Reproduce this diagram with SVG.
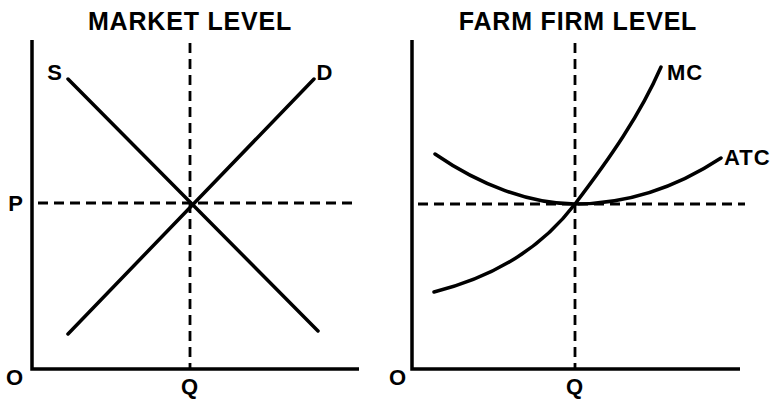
<svg xmlns="http://www.w3.org/2000/svg" width="778" height="400" viewBox="0 0 778 400">
<style>
.t{font-family:"Liberation Sans",Arial,sans-serif;font-weight:bold;fill:#000}
.title{font-size:25px;letter-spacing:0.8px}
.lbl{font-size:22px;letter-spacing:1px}
.axis{stroke:#000;stroke-width:3.5;fill:none}
.curve{stroke:#000;stroke-width:3.5;fill:none;stroke-linecap:round}
.dash{stroke:#000;stroke-width:2.8;fill:none;stroke-dasharray:10,6}
</style>
<rect width="778" height="400" fill="#fff"/>
<g id="market">
  <text class="t title" x="190" y="30" text-anchor="middle">MARKET LEVEL</text>
  <path class="axis" d="M32,40 V369 H359"/>
  <text class="t lbl" x="15" y="385" text-anchor="middle">O</text>
  <text class="t lbl" x="16" y="211" text-anchor="middle">P</text>
  <text class="t lbl" x="190" y="394" text-anchor="middle">Q</text>
</g>
<g id="firm">
  <text class="t title" x="578" y="30" text-anchor="middle">FARM FIRM LEVEL</text>
  <path class="axis" d="M412,40 V369 H740"/>
  <text class="t lbl" x="398" y="385" text-anchor="middle">O</text>
  <text class="t lbl" x="575" y="394" text-anchor="middle">Q</text>
</g>
<g id="connectors">
  <path class="dash" d="M190,43 V369"/>
  <path class="dash" d="M38,203 H357"/>
  <path class="curve" d="M68,79 L318,331"/>
  <path class="curve" d="M314,79 L68,334"/>
  <path class="dash" d="M575,43 V369"/>
  <path class="dash" d="M418,204 H745"/>
  <path class="curve" d="M434,292 C490,278 540,250 575,204 C610,158 640,115 661,67"/>
  <path class="curve" d="M435,154 C480,185 530,204 575,204 C630,204 680,185 721,158"/>
</g>
<g id="labels">
  <text class="t lbl" x="55" y="80" text-anchor="middle">S</text>
  <text class="t lbl" x="325" y="80" text-anchor="middle">D</text>
  <text class="t lbl" x="667" y="80">MC</text>
  <text class="t lbl" x="724" y="165">ATC</text>
</g>
</svg>
